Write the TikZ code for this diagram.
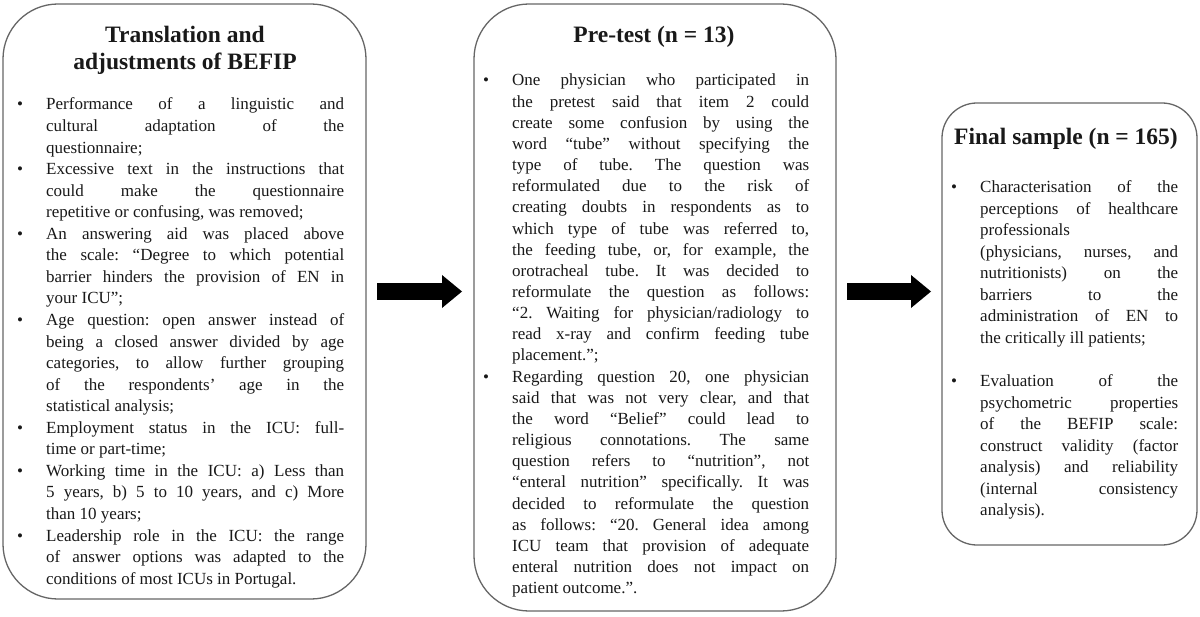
\documentclass[tikz,border=0pt]{standalone}
\usepackage{fontspec}
\setmainfont{Liberation Serif}
\usetikzlibrary{arrows.meta}
\frenchspacing
\hyphenpenalty=10000
\tolerance=9999
% bullet points with a hanging indent
\newcommand\bpoint{\hangindent=29bp\hangafter=1\makebox[29bp][l]{\textbullet}}
\newcommand\npoint{\par\bpoint}
\tikzset{
  panel/.style={draw=black!60,line width=1.3bp,fill=white},
  heading/.style={font=\fontsize{23.5bp}{27bp}\selectfont\bfseries,align=center,inner sep=0pt,text=black!90},
  bodytext/.style={font=\fontsize{17bp}{21.5bp}\selectfont,align=justify,inner sep=0pt,anchor=base west,text=black!90},
  fatarrow/.style={line width=17bp,-{Triangle[width=33bp,length=20bp,line width=0pt]}}
}
\begin{document}
\begin{tikzpicture}[x=1bp,y=-1bp]
  \useasboundingbox (0,0) rectangle (1200,617);
  % the three stages
  \node[panel,rounded corners=55bp,minimum width=363bp,minimum height=595bp] (trans) at (184.5,301.5) {};
  \node[panel,rounded corners=55bp,minimum width=362bp,minimum height=607bp] (pretest) at (655,307.5) {};
  \node[panel,rounded corners=35bp,minimum width=255bp,minimum height=442bp] (final) at (1069.5,324) {};
  \node[heading,anchor=base] (transhead) at (185,70) {Translation and\\adjustments of BEFIP};
  \node[heading,anchor=base] (pretesthead) at (654,43) {Pre-test (n = 13)};
  \node[heading,anchor=base] (finalhead) at (1066,145) {Final sample (n = 165)};
  \node[bodytext,text width=327bp,font=\fontsize{17bp}{21.55bp}\selectfont] (transtxt) at (17,110) {%
    \bpoint Performance of a linguistic and\linebreak cultural adaptation of the\linebreak questionnaire;
    \npoint Excessive text in the instructions that\linebreak could make the questionnaire\linebreak repetitive or confusing, was removed;
    \npoint An answering aid was placed above\linebreak the scale: “Degree to which potential\linebreak barrier hinders the provision of EN in\linebreak your ICU”;
    \npoint Age question: open answer instead of\linebreak being a closed answer divided by age\linebreak categories, to allow further grouping\linebreak of the respondents’ age in the\linebreak statistical analysis;
    \npoint Employment status in the ICU: full-\linebreak time or part-time;
    \npoint Working time in the ICU: a) Less than\linebreak 5 years, b) 5 to 10 years, and c) More\linebreak than 10 years;
    \npoint Leadership role in the ICU: the range\linebreak of answer options was adapted to the\linebreak conditions of most ICUs in Portugal.\par};
  \node[bodytext,text width=326bp,font=\fontsize{17bp}{21.15bp}\selectfont] (pretesttxt) at (483,86) {%
    \bpoint One physician who participated in\linebreak the pretest said that item 2 could\linebreak create some confusion by using the\linebreak word “tube” without specifying the\linebreak type of tube. The question was\linebreak reformulated due to the risk of\linebreak creating doubts in respondents as to\linebreak which type of tube was referred to,\linebreak the feeding tube, or, for example, the\linebreak orotracheal tube. It was decided to\linebreak reformulate the question as follows:\linebreak “2. Waiting for physician/radiology to\linebreak read x-ray and confirm feeding tube\linebreak placement.”;
    \npoint Regarding question 20, one physician\linebreak said that was not very clear, and that\linebreak the word “Belief” could lead to\linebreak religious connotations. The same\linebreak question refers to “nutrition”, not\linebreak “enteral nutrition” specifically. It was\linebreak decided to reformulate the question\linebreak as follows: “20. General idea among\linebreak ICU team that provision of adequate\linebreak enteral nutrition does not impact on\linebreak patient outcome.”.\par};
  \node[bodytext,text width=227bp] (finaltxt) at (951,193) {%
    \bpoint Characterisation of the\linebreak perceptions of healthcare\linebreak professionals\\ (physicians, nurses, and\linebreak nutritionists) on the\linebreak barriers to the\linebreak administration of EN to\linebreak the critically ill patients;
    \par\vskip\baselineskip
    \bpoint Evaluation of the\linebreak psychometric properties\linebreak of the BEFIP scale:\linebreak construct validity (factor\linebreak analysis) and reliability\linebreak (internal consistency\linebreak analysis).\par};
  % arrows between the stages
  \coordinate (go1) at (377,291.5);
  \coordinate (to1) at (462,291.5);
  \coordinate (go2) at (847,291.5);
  \coordinate (to2) at (931,291.5);
  \draw[fatarrow] (go1) -- (to1);
  \draw[fatarrow] (go2) -- (to2);
\end{tikzpicture}
\end{document}
